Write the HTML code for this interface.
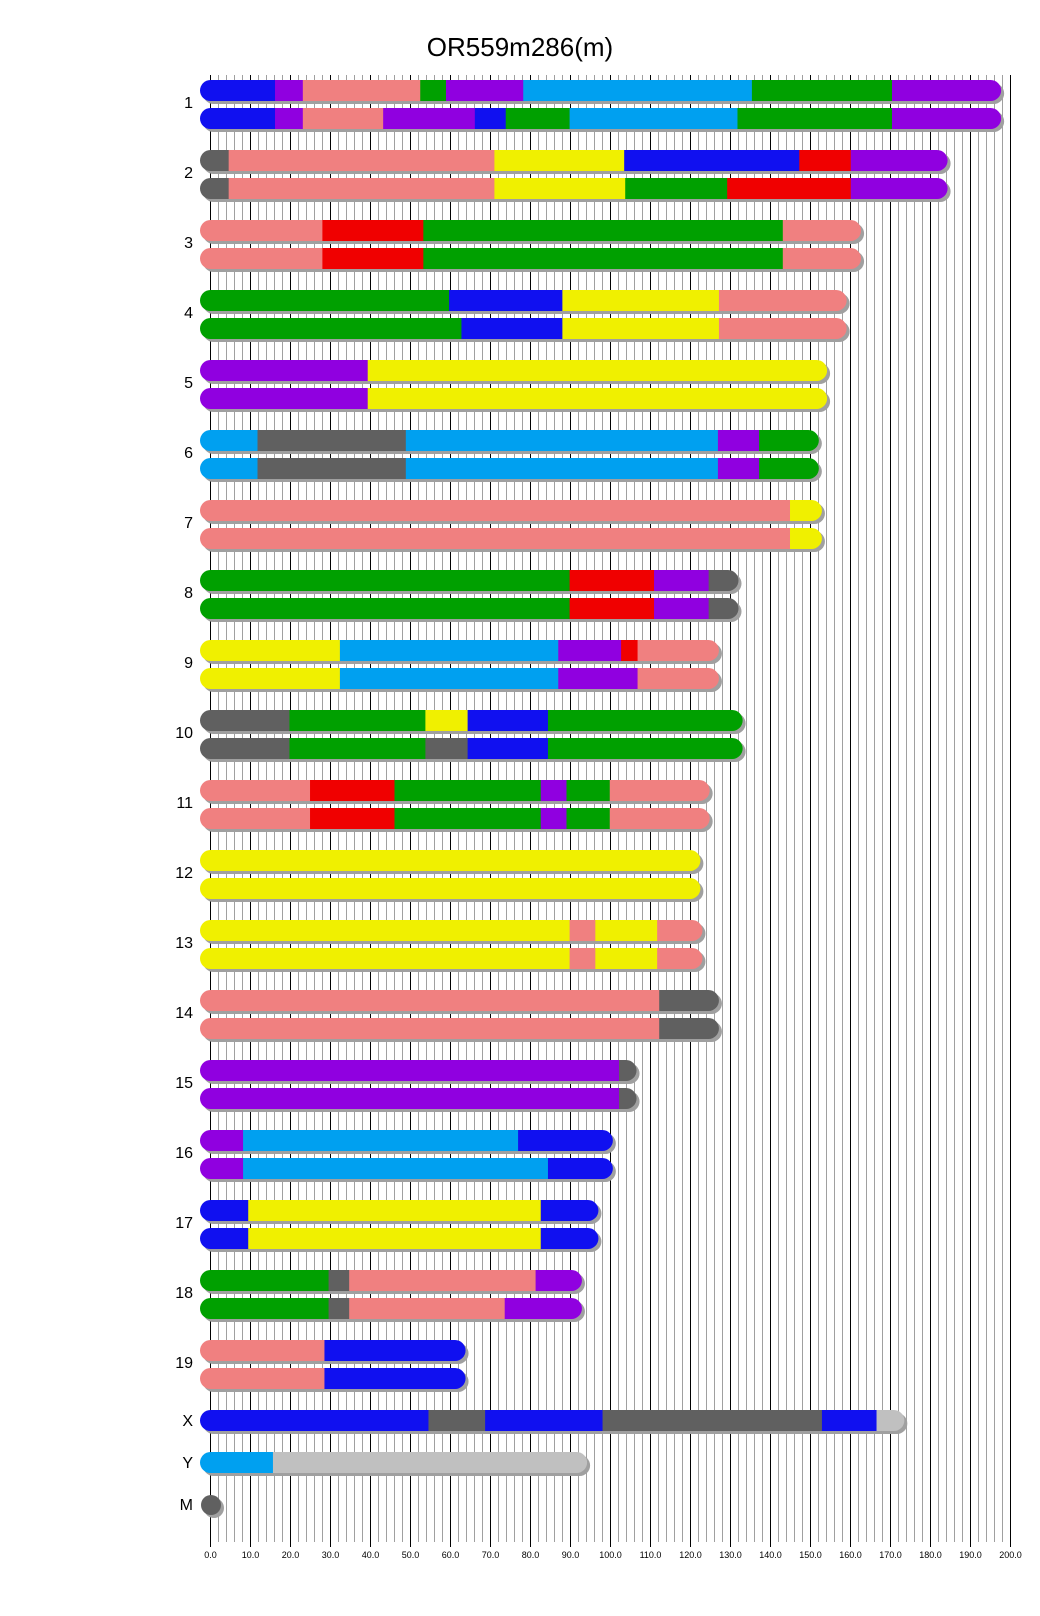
<!DOCTYPE html>
<html><head><meta charset="utf-8"><style>
html,body{margin:0;padding:0;background:#fff;}
svg{display:block;}
text{font-family:"Liberation Sans",sans-serif;}
</style></head><body>
<svg id="s" width="1040" height="1616" xmlns="http://www.w3.org/2000/svg">
<text x="520" y="56" text-anchor="middle" font-size="26" fill="#000">OR559m286(m)</text>
<g id="grid"></g><g id="bars"></g><g id="labels"></g>
</svg>
<script>
var NS="http://www.w3.org/2000/svg";
function el(p,t,a,txt){var e=document.createElementNS(NS,t);for(var k in a)e.setAttribute(k,a[k]);if(txt!==undefined)e.textContent=txt;p.appendChild(e);return e;}
var g=document.getElementById('grid');
for(var u=0;u<=200;u+=2){var x=210+u*4+0.5;var maj=(u%10==0);
 el(g,'line',{x1:x,x2:x,y1:75,y2:maj?1547:1542,stroke:maj?'#000':'#a0a0a0','stroke-width':1});
 if(maj)el(g,'text',{x:x,y:1558,'text-anchor':'middle','font-size':9,fill:'#000'},u.toFixed(1));}
var C={b:'#1010f0',p:'#9000e0',k:'#f08080',g:'#00a000',l:'#00a0f0',d:'#606060',y:'#f0f000',r:'#f00000',s:'#c0c0c0'};
var rows=[
['1',[['b',267],['p',294],['k',408],['g',433],['p',508],['l',730],['g',866],['p',972]],[['b',267],['p',294],['k',372],['p',461],['b',491],['g',553],['l',716],['g',866],['p',972]]],
['2',[['d',222],['k',480],['y',606],['b',776],['r',826],['p',920]],[['d',222],['k',480],['y',607],['g',706],['r',826],['p',920]]],
['3',[['k',313],['r',411],['g',760],['k',836]]],
['4',[['g',436],['b',546],['y',698],['k',822]],[['g',448],['b',546],['y',698],['k',822]]],
['5',[['p',357],['y',803]]],
['6',[['l',250],['d',394],['l',697],['p',737],['g',795]]],
['7',[['k',767],['y',798]]],
['8',[['g',553],['r',635],['p',688],['d',717]]],
['9',[['y',330],['l',542],['p',603],['r',619],['k',698]],[['y',330],['l',542],['p',619],['k',698]]],
['10',[['d',281],['g',413],['y',454],['b',532],['g',721]],[['d',281],['g',413],['d',454],['b',532],['g',721]]],
['11',[['k',301],['r',383],['g',525],['p',550],['g',592],['k',689]]],
['12',[['y',680]]],
['13',[['y',553],['k',578],['y',638],['k',682]]],
['14',[['k',640],['d',698]]],
['15',[['p',601],['d',618]]],
['16',[['p',236],['l',503],['b',595]],[['p',236],['l',532],['b',595]]],
['17',[['b',241],['y',525],['b',581]]],
['18',[['g',319],['d',339],['k',520],['p',565]],[['g',319],['d',339],['k',490],['p',565]]],
['19',[['k',315],['b',452]]]
];
var B=document.getElementById('bars'),L=document.getElementById('labels'),cid=0;
function bar(y,segs){var x0=200,x1=segs[segs.length-1][1]*1.03,h=21,r=10.5;
 el(B,'rect',{x:x0+3,y:y+3,width:x1-x0,height:h,rx:r,fill:'#a0a0a0'});
 var id='c'+(cid++);var cp=el(B,'clipPath',{id:id});el(cp,'rect',{x:x0,y:y,width:x1-x0,height:h,rx:r});
 var gg=el(B,'g',{'clip-path':'url(#'+id+')'});var px=x0;
 segs.forEach(function(s){var e=s[1]*1.03;el(gg,'rect',{x:px,y:y,width:e-px+0.5,height:h,fill:C[s[0]]});px=e;});}
rows.forEach(function(r,i){var t=80+70*i;bar(t,r[1]);bar(t+28,r[2]||r[1]);
 el(L,'text',{x:193,y:t+28,'text-anchor':'end','font-size':16,fill:'#000'},r[0]);});
bar(1410,[['b',416],['d',471],['b',585],['d',798],['b',851],['s',878]]);
el(L,'text',{x:193,y:1426,'text-anchor':'end','font-size':16},'X');
bar(1452,[['l',265],['s',570]]);
el(L,'text',{x:193,y:1468,'text-anchor':'end','font-size':16},'Y');
el(B,'circle',{cx:214,cy:1508,r:10,fill:'#a0a0a0'});
el(B,'circle',{cx:211,cy:1505,r:10,fill:'#606060'});
el(L,'text',{x:193,y:1510,'text-anchor':'end','font-size':16},'M');
</script>
</body></html>
